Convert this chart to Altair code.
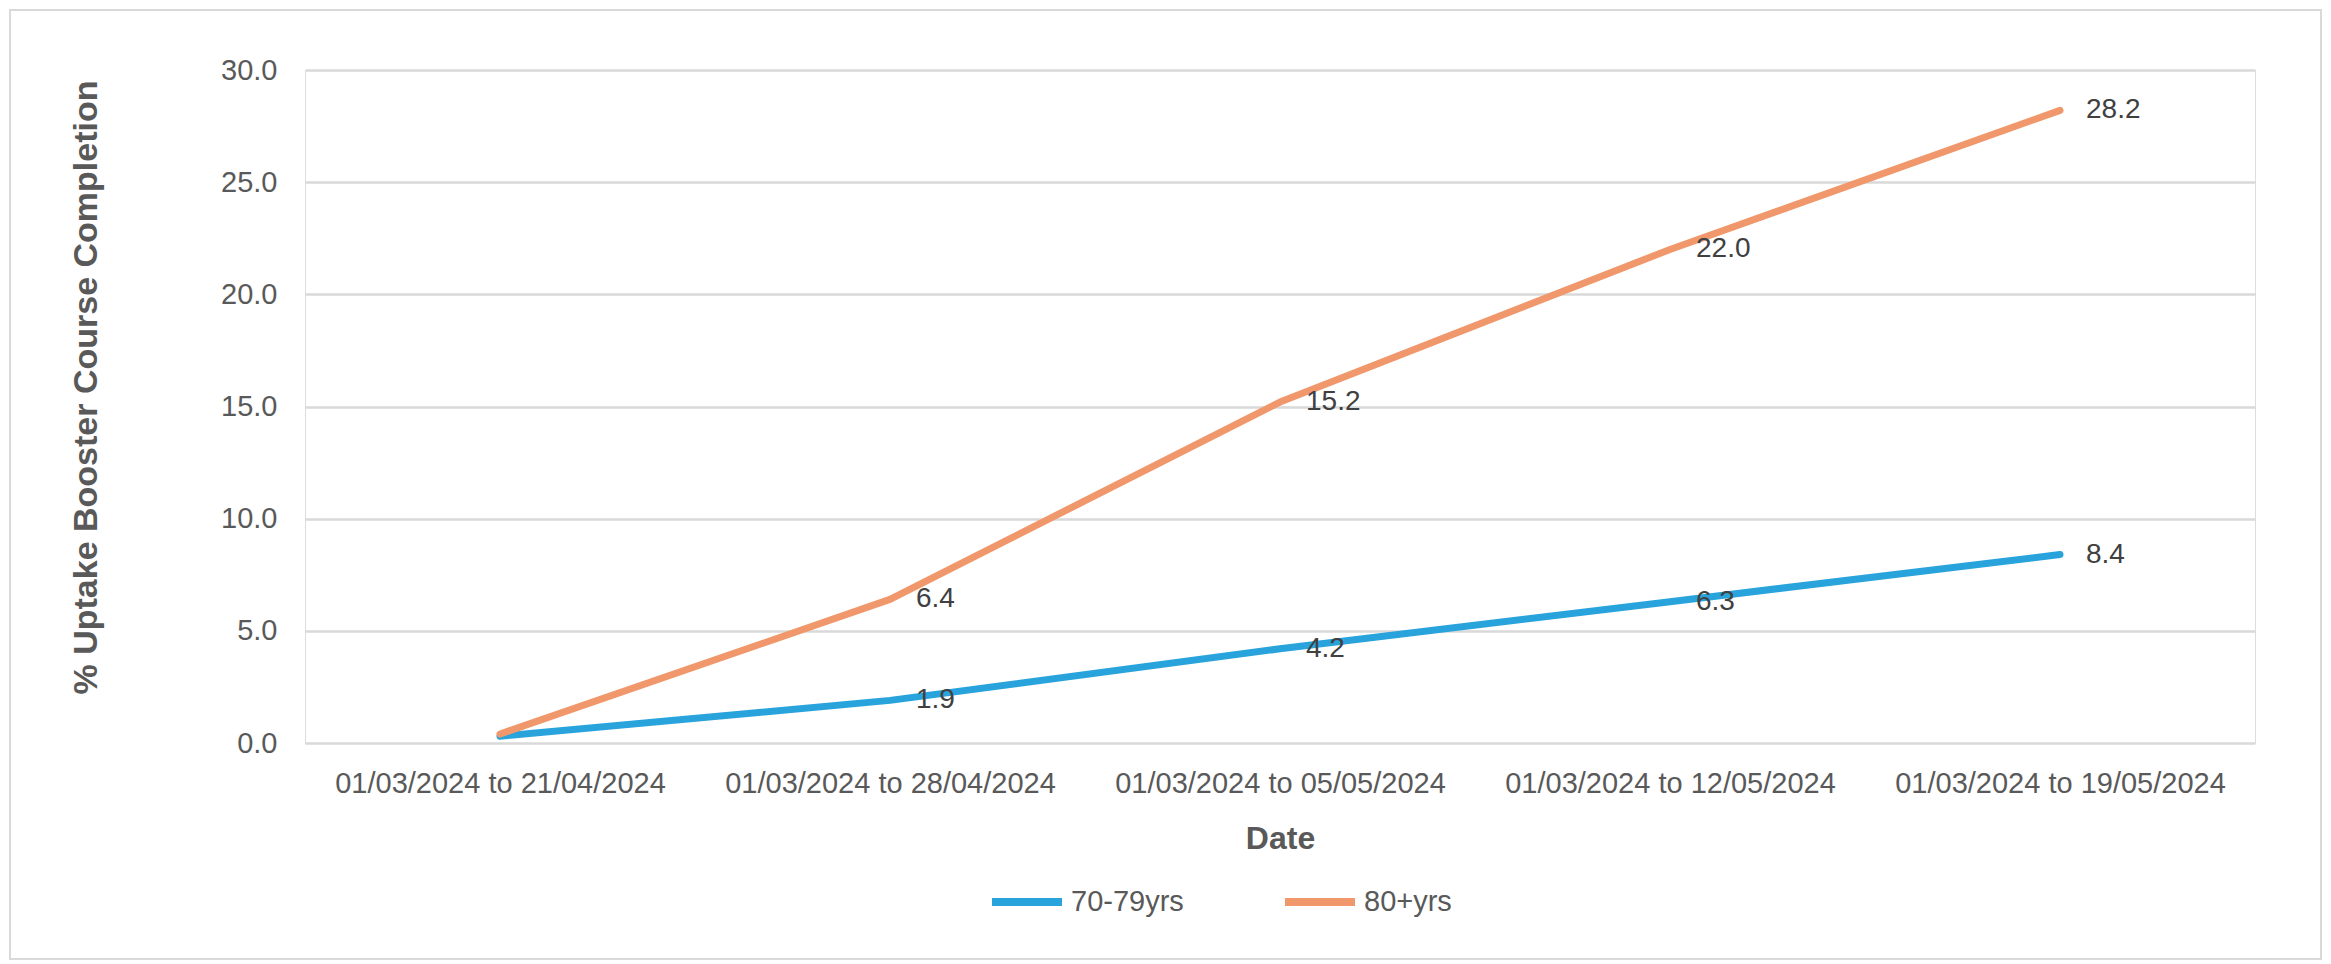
import altair as alt
import pandas as pd

categories = [
    "01/03/2024 to 21/04/2024",
    "01/03/2024 to 28/04/2024",
    "01/03/2024 to 05/05/2024",
    "01/03/2024 to 12/05/2024",
    "01/03/2024 to 19/05/2024",
]
series_names = ["70-79yrs", "80+yrs"]
values_70_79 = [0.3, 1.9, 4.2, 6.3, 8.4]
values_80_plus = [0.4, 6.4, 15.2, 22.0, 28.2]
show_label = [False, True, True, True, True]
colors = ["#29A3DC", "#F0986C"]
y_ticks = [0, 5, 10, 15, 20, 25, 30]

rows = []
for name, vals in zip(series_names, [values_70_79, values_80_plus]):
    for i, (c, v) in enumerate(zip(categories, vals)):
        rows.append({
            "Date": c,
            "value": v,
            "series": name,
            "label": f"{v:.1f}" if show_label[i] else "",
        })
df = pd.DataFrame(rows)

FONT = "Liberation Sans"

x_enc = alt.X(
    "Date:N",
    sort=categories,
    scale=alt.Scale(type="point", padding=0.5),
    axis=alt.Axis(
        title="Date",
        titleFontSize=32,
        titleFontWeight="bold",
        titleColor="#595959",
        titleFont=FONT,
        titleY=95,
        titleBaseline="middle",
        labelAngle=0,
        labelFontSize=29,
        labelColor="#595959",
        labelFont=FONT,
        labelPadding=26,
        labelLimit=0,
        ticks=False,
        tickSize=0,
        domain=False,
        grid=False,
    ),
)
y_enc = alt.Y(
    "value:Q",
    scale=alt.Scale(domain=[0, 30], nice=False),
    axis=alt.Axis(
        title="% Uptake Booster Course Completion",
        titleFontSize=34,
        titleFontWeight="bold",
        titleColor="#595959",
        titleFont=FONT,
        titleX=-219,
        titleY=317,
        titleAngle=-90,
        titleAlign="center",
        titleBaseline="middle",
        values=y_ticks,
        format=".1f",
        labelFontSize=29,
        labelColor="#595959",
        labelFont=FONT,
        labelPadding=28,
        ticks=False,
        tickSize=0,
        domain=False,
        grid=True,
        gridColor="#d9d9d9",
        gridWidth=2.5,
    ),
)
color_enc = alt.Color(
    "series:N",
    scale=alt.Scale(domain=series_names, range=colors),
    legend=alt.Legend(
        title=None,
        orient="none",
        legendX=683,
        legendY=793,
        direction="horizontal",
        symbolType="stroke",
        symbolSize=4900,
        symbolStrokeWidth=8,
        labelFontSize=29,
        labelColor="#595959",
        labelFont=FONT,
        labelOffset=5,
        columnPadding=85,
        padding=0,
    ),
)

base = alt.Chart(df)

lines = base.mark_line(strokeWidth=7, strokeCap="round", strokeJoin="round").encode(
    x=x_enc, y=y_enc, color=color_enc
)

labels = base.mark_text(
    align="left", baseline="middle", dx=26, fontSize=28, color="#404040", font=FONT
).encode(
    x=alt.X("Date:N", sort=categories),
    y="value:Q",
    text="label:N",
)

frame = alt.Chart(pd.DataFrame({"k": [0]})).mark_rect(
    fill="transparent", stroke="#d9d9d9", strokeWidth=2, clip=False
).encode(
    x=alt.value(-295), x2=alt.value(2016), y=alt.value(-60), y2=alt.value(889)
)

chart = alt.layer(frame, lines, labels).properties(
    width=1950,
    height=673,
    padding={"left": 297, "top": 62, "right": 68, "bottom": 218},
    autosize=alt.AutoSizeParams(type="none"),
).configure_view(stroke=None).configure(background="white")

chart.save("out.html", embed_options={"renderer": "svg", "actions": False})
